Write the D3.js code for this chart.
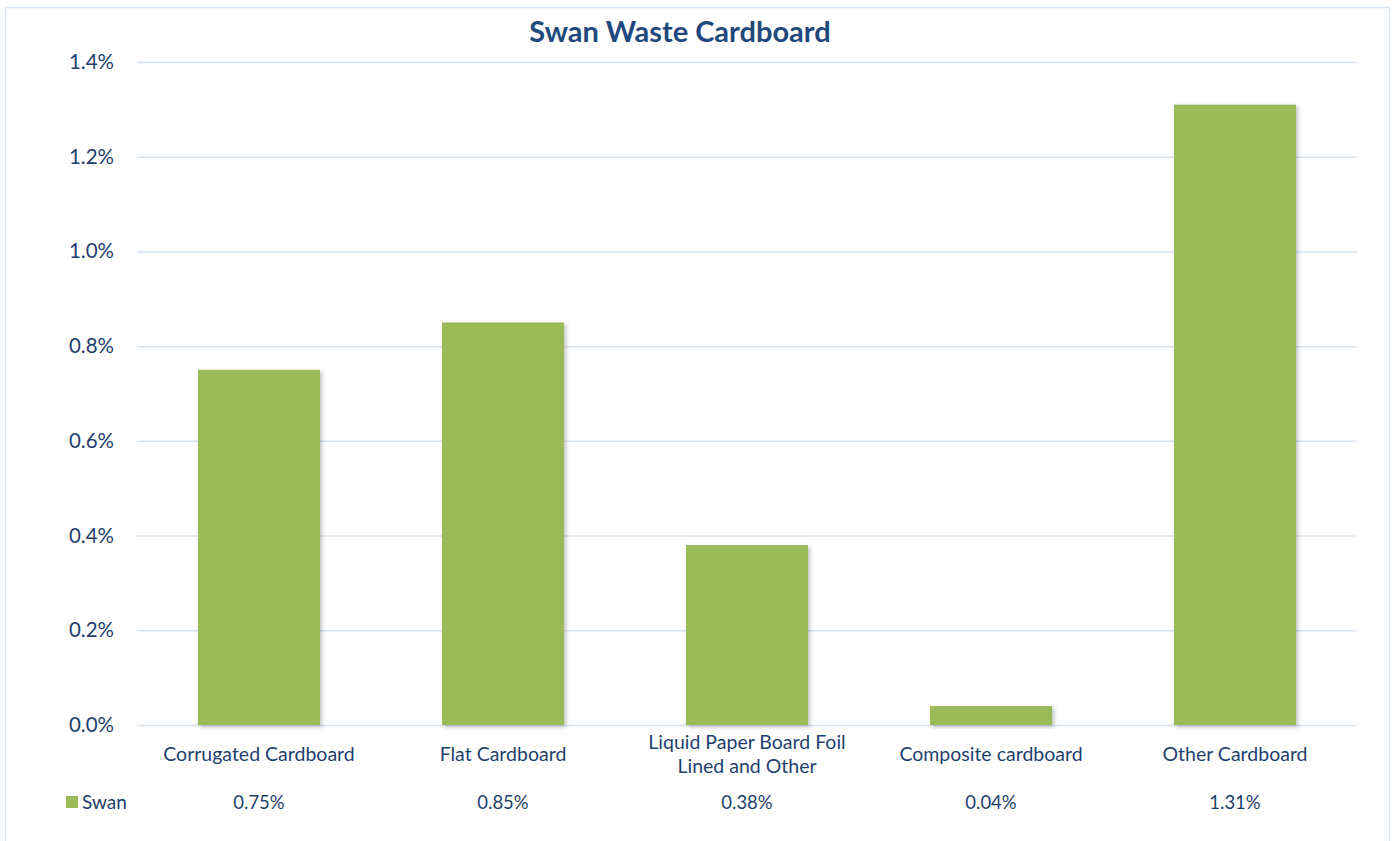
<!DOCTYPE html>
<html>
<head>
<meta charset="utf-8">
<script src="https://cdn.jsdelivr.net/npm/d3@7"></script>
<style>
  html, body { margin: 0; padding: 0; background: #fff; }
  svg { display: block; font-family: Lato, "Open Sans", sans-serif; }
</style>
</head>
<body>
<svg id="chart"></svg>
<script>
// Swan Waste Cardboard — column chart with data table row underneath.

const CATEGORIES = [
  ["Corrugated Cardboard"],
  ["Flat Cardboard"],
  ["Liquid Paper Board Foil", "Lined and Other"],
  ["Composite cardboard"],
  ["Other Cardboard"]
];
const SWAN = [0.75, 0.85, 0.38, 0.04, 1.31];   // percent
const Y_TICKS = [0, 0.2, 0.4, 0.6, 0.8, 1.0, 1.2, 1.4];

(function () {
  const W = 1396, H = 841;
  const M = { top: 62, right: 39, bottom: 116, left: 137 };
  const innerW = W - M.left - M.right;
  const innerH = H - M.top - M.bottom;

  const GREEN = "#9bbb59";
  const TEXT = "#1f3f6e";
  const GRID = "#d9e4f1";

  const svg = d3.select("#chart").attr("width", W).attr("height", H);

  // drop shadow for bars
  const defs = svg.append("defs");
  const f = defs.append("filter").attr("id", "shadow")
    .attr("x", "-10%").attr("y", "-10%").attr("width", "130%").attr("height", "130%");
  f.append("feDropShadow")
    .attr("dx", 2).attr("dy", 2).attr("stdDeviation", 2)
    .attr("flood-color", "#000").attr("flood-opacity", 0.25);

  // outer chart border
  svg.append("rect")
    .attr("x", 5.5).attr("y", 7.5)
    .attr("width", 1384).attr("height", 850)
    .attr("fill", "#fff")
    .attr("stroke", GRID).attr("stroke-width", 1.5);

  // title
  svg.append("text")
    .attr("x", 680).attr("y", 42)
    .attr("text-anchor", "middle")
    .attr("font-size", 29).attr("font-weight", 700)
    .attr("fill", "#1f497d")
    .text("Swan Waste Cardboard");

  const g = svg.append("g").attr("transform", `translate(${M.left},${M.top})`);

  const x = d3.scaleBand()
    .domain(d3.range(CATEGORIES.length))
    .range([0, innerW])
    .paddingInner(0.5).paddingOuter(0.25);

  const y = d3.scaleLinear().domain([0, 1.4]).range([innerH, 0]);

  // gridlines
  g.append("g")
    .call(d3.axisLeft(y).tickValues(Y_TICKS).tickSize(-innerW).tickFormat(""))
    .call(s => s.select(".domain").remove())
    .call(s => s.selectAll("line").attr("stroke", GRID).attr("stroke-width", 1.5));

  // y tick labels
  g.append("g")
    .call(d3.axisLeft(y).tickValues(Y_TICKS).tickSize(0).tickPadding(23)
      .tickFormat(d => d.toFixed(1) + "%"))
    .call(s => s.select(".domain").remove())
    .call(s => s.selectAll("text")
      .attr("font-size", 20.5).attr("fill", TEXT)
      .attr("font-family", "Lato, 'Open Sans', sans-serif"));

  // bars
  g.selectAll("rect.bar")
    .data(SWAN)
    .join("rect")
    .attr("class", "bar")
    .attr("x", (d, i) => x(i))
    .attr("width", x.bandwidth())
    .attr("y", d => y(d))
    .attr("height", d => innerH - y(d))
    .attr("fill", GREEN)
    .attr("filter", "url(#shadow)");

  // category labels (axis row of the data table)
  const catG = g.append("g").attr("transform", `translate(0,${innerH})`);
  CATEGORIES.forEach((lines, i) => {
    const cx = x(i) + x.bandwidth() / 2;
    const t = catG.append("text")
      .attr("text-anchor", "middle")
      .attr("font-size", 19.5).attr("fill", TEXT);
    const y0 = lines.length === 1 ? 36 : 24;
    lines.forEach((ln, j) => {
      t.append("tspan").attr("x", cx).attr("y", y0 + j * 24).text(ln);
    });
  });

  // data table row
  const rowY = innerH + 84;
  catG.selectAll("text.val")
    .data(SWAN)
    .join("text")
    .attr("class", "val")
    .attr("x", (d, i) => x(i) + x.bandwidth() / 2)
    .attr("y", 84)
    .attr("text-anchor", "middle")
    .attr("font-size", 18.5).attr("fill", TEXT)
    .text(d => d.toFixed(2) + "%");

  // legend key
  svg.append("rect")
    .attr("x", 66).attr("y", M.top + rowY - 13)
    .attr("width", 12).attr("height", 12)
    .attr("fill", GREEN);
  svg.append("text")
    .attr("x", 82).attr("y", M.top + rowY)
    .attr("font-size", 19).attr("fill", TEXT)
    .text("Swan");
})();
</script>
</body>
</html>
